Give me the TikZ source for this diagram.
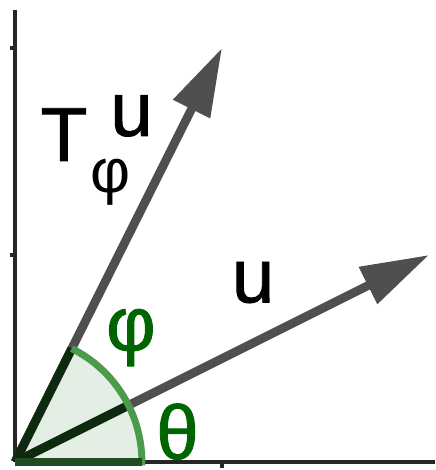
\documentclass[tikz,border=0pt]{standalone}
\usepackage{fontspec}
\setmainfont{Liberation Sans}[BoldFont=Liberation Sans, BoldFeatures={FakeBold=1.2}]
\usetikzlibrary{arrows.meta, positioning}
\definecolor{wedgefill}{HTML}{E4EEE4}
\definecolor{arcgreen}{HTML}{4C9A4C}
\definecolor{spokegreen}{HTML}{0E2A0E}
\definecolor{labelgreen}{HTML}{006400}
\definecolor{vecgray}{HTML}{4F4F4F}

\begin{document}
\begin{tikzpicture}[
    x=2cm, y=2cm,
    every node/.style={inner sep=0pt, font=\fontsize{21}{25}\selectfont\bfseries},
    axis/.style={line width=1.1pt, color=black!85},
    vec/.style={-{Triangle[length=6.6mm, width=3.8mm]}, line width=2.4pt, color=vecgray},
    wedge/.style={fill=wedgefill},
    rim/.style={line width=1.9pt, color=arcgreen},
    spoke/.style={line width=2.4pt, color=spokegreen},
    anglbl/.style={text=labelgreen},
]
    \useasboundingbox (-0.0725,-0.0386) rectangle (2.029,2.2319);

    % axes
    \coordinate (O) at (0,0);
    \coordinate (ytop) at (0,2.184);
    \coordinate (xend) at (2.03,0);
    \draw[axis] (O) -- (ytop);
    \draw[axis] (O) -- (xend);
    \draw[axis] (0,1) -- ++(-0.025,0);
    \draw[axis] (0,2) -- ++(-0.025,0);
    \draw[axis] (1,0) -- ++(0,-0.03);

    % angle wedges
    \coordinate (A0) at (0:0.613);
    \coordinate (A1) at (26.57:0.613);
    \coordinate (A2) at (63.43:0.613);
    \fill[wedge] (O) -- (A0) arc[start angle=0, end angle=63.43, radius=0.613] -- cycle;

    % vectors
    \coordinate (U) at (2,1);
    \coordinate (TU) at (1,2);
    \draw[vec] (O) -- (U);
    \draw[vec] (O) -- (TU);

    \draw[spoke] (O) -- (A1);
    \draw[spoke] (O) -- (A2);
    \draw[rim] (O) -- (A0) arc[start angle=0, end angle=63.43, radius=0.613];
    \draw[spoke, color=spokegreen!70!arcgreen] (O) -- (A0);

    % labels
    \node (ulbl) at (1.150,0.867) {u};
    \node (T) at (0.2367,1.582) {T};
    \node (Tsup) at (0.5628,1.6715) {u};
    \node[font=\fontsize{17}{20}\selectfont] (Tsub) at (0.4638,1.350) {φ};
    \node[anglbl] (philbl) at (0.560,0.601) {φ};
    \node[anglbl] (thetalbl) at (0.785,0.147) {θ};
\end{tikzpicture}
\end{document}
